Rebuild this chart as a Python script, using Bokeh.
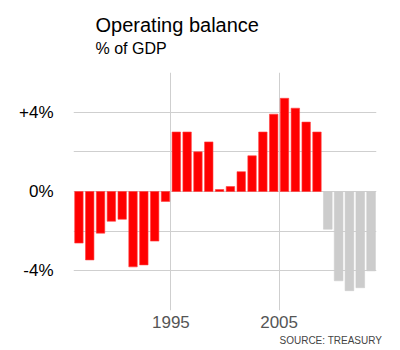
from bokeh.plotting import figure
from bokeh.models import FixedTicker, Range1d, Title, ColumnDataSource
from bokeh.embed import file_html
from bokeh.resources import INLINE

years_actual = [1986, 1987, 1988, 1989, 1990, 1991, 1992, 1993, 1994,
                1995, 1996, 1997, 1998, 1999, 2000, 2001, 2002, 2003,
                2004, 2005, 2006, 2007, 2008]
values_actual = [-2.6, -3.45, -2.1, -1.5, -1.4, -3.8, -3.7, -2.5, -0.5,
                 3.0, 3.0, 2.0, 2.5, 0.1, 0.25, 1.0, 1.8, 3.0,
                 3.9, 4.7, 4.2, 3.5, 3.0]
years_forecast = [2009, 2010, 2011, 2012, 2013]
values_forecast = [-1.9, -4.5, -5.0, -4.85, -4.0]

y_ticks = [-4, 0, 4]
y_tick_labels = {-4: "-4%", 0: "0%", 4: "+4%"}
x_ticks = [1995, 2005]
x_tick_labels = {1995: "1995", 2005: "2005"}
y_grid = [-6, -4, -2, 0, 2, 4, 6]

FONT = "Liberation Sans"

p = figure(width=400, height=350, output_backend="svg", toolbar_location=None,
           x_range=Range1d(1986, 2014), y_range=Range1d(-6, 6),
           min_border_left=73, min_border_right=24, min_border_top=72,
           min_border_bottom=40, background_fill_color="white",
           border_fill_color="white")
p.outline_line_color = None

src_a = ColumnDataSource(dict(x=[y + 0.5 for y in years_actual], top=values_actual))
src_f = ColumnDataSource(dict(x=[y + 0.5 for y in years_forecast], top=values_forecast))
p.vbar(x="x", top="top", bottom=0, width=0.78, source=src_a,
       fill_color="#ff0000", line_color="#ff4040", line_width=0.6)
p.vbar(x="x", top="top", bottom=0, width=0.8, source=src_f,
       fill_color="#cccccc", line_color="#cccccc", line_width=0.6)

# grids
p.ygrid.ticker = FixedTicker(ticks=y_grid)
p.xgrid.ticker = FixedTicker(ticks=x_ticks)
for g in (p.xgrid, p.ygrid):
    g.grid_line_color = "#cfcfcf"
    g.grid_line_width = 1

# y axis
ya = p.yaxis[0]
ya.ticker = FixedTicker(ticks=y_ticks)
ya.major_label_overrides = y_tick_labels
ya.axis_line_color = None
ya.major_tick_line_color = None
ya.minor_tick_line_color = None
ya.major_tick_out = 0
ya.minor_tick_out = 0
ya.major_label_text_font = FONT
ya.major_label_text_font_size = "17px"
ya.major_label_text_color = "#000000"
ya.major_label_standoff = 20

# x axis
xa = p.xaxis[0]
xa.ticker = FixedTicker(ticks=x_ticks)
xa.major_label_overrides = x_tick_labels
xa.axis_line_color = None
xa.major_tick_line_color = None
xa.minor_tick_line_color = None
xa.major_tick_out = 0
xa.minor_tick_out = 0
xa.major_label_text_font = FONT
xa.major_label_text_font_size = "17px"
xa.major_label_text_color = "#555555"
xa.major_label_text_align = "left"
xa.major_label_standoff = 5

# source
p.add_layout(Title(text="SOURCE: TREASURY", text_font=FONT, text_font_size="10px",
                   text_color="#444444", text_font_style="normal", align="left",
                   offset=206, standoff=4), "below")

# titles
p.add_layout(Title(text="% of GDP", text_font=FONT, text_font_size="16px",
                   text_color="#000000", text_font_style="normal", align="left",
                   offset=22, standoff=32), "above")
p.add_layout(Title(text="Operating balance", text_font=FONT, text_font_size="20px",
                   text_color="#000000", text_font_style="normal", align="left",
                   offset=22, standoff=-28), "above")

open("out.html", "w").write(file_html(p, INLINE))
